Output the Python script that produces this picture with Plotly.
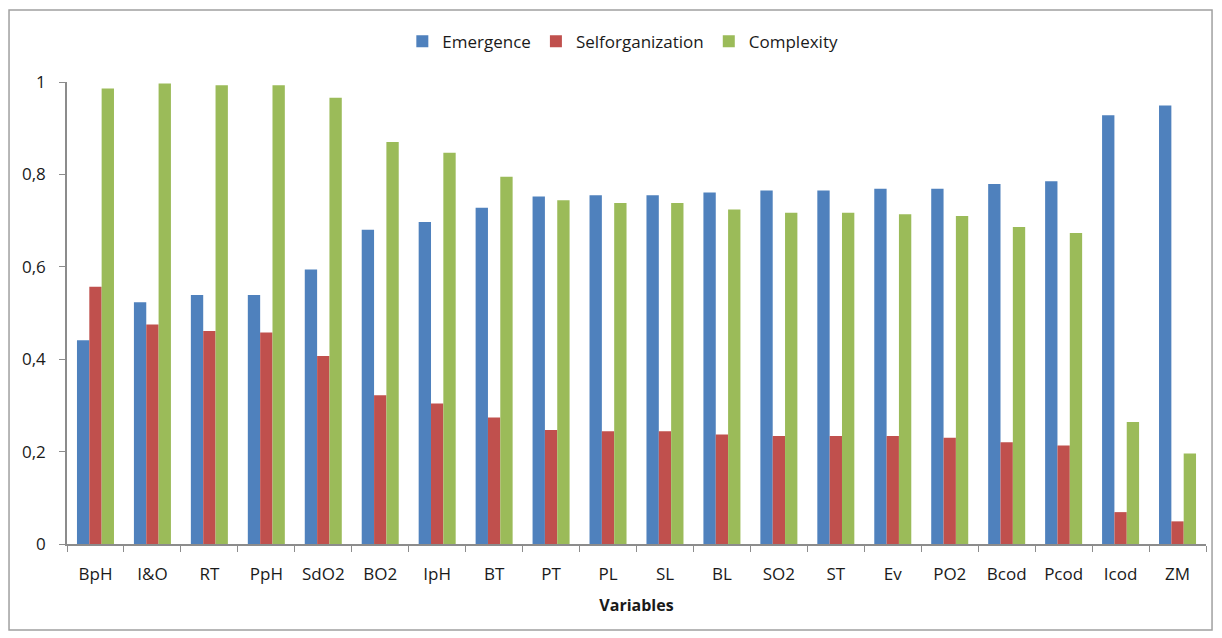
import plotly.graph_objects as go

# categories on the x axis
variables = ["BpH", "I&O", "RT", "PpH", "SdO2", "BO2", "IpH", "BT", "PT", "PL",
             "SL", "BL", "SO2", "ST", "Ev", "PO2", "Bcod", "Pcod", "Icod", "ZM"]

# series values
emergence = [0.441, 0.523, 0.539, 0.539, 0.594, 0.680, 0.697, 0.728, 0.752, 0.755,
             0.755, 0.761, 0.765, 0.765, 0.769, 0.769, 0.779, 0.785, 0.928, 0.949]
selforganization = [0.557, 0.475, 0.461, 0.458, 0.407, 0.322, 0.304, 0.274, 0.247, 0.244,
                    0.244, 0.237, 0.234, 0.234, 0.234, 0.230, 0.220, 0.213, 0.069, 0.049]
complexity = [0.986, 0.997, 0.993, 0.993, 0.966, 0.870, 0.847, 0.795, 0.744, 0.738,
              0.738, 0.724, 0.717, 0.717, 0.714, 0.710, 0.686, 0.673, 0.264, 0.196]

y_ticks = [0, 0.2, 0.4, 0.6, 0.8, 1]

fig = go.Figure()
fig.add_trace(go.Bar(x=variables, y=emergence, name="Emergence",
                     marker=dict(color="#4F81BD", line=dict(width=0))))
fig.add_trace(go.Bar(x=variables, y=selforganization, name="Selforganization",
                     marker=dict(color="#C0504D", line=dict(width=0))))
fig.add_trace(go.Bar(x=variables, y=complexity, name="Complexity",
                     marker=dict(color="#9BBB59", line=dict(width=0))))

# page body adds ~8px offset, so the figure is a bit smaller than the window
fig.update_layout(
    width=1214, height=630,
    margin=dict(l=59, r=16, t=74, b=94),
    paper_bgcolor="white", plot_bgcolor="white",
    separators=",.",
    barmode="group", bargap=0.35, bargroupgap=0,
    font=dict(family="Open Sans, sans-serif", size=17, color="#1a1a1a"),
    showlegend=True,
    legend=dict(orientation="h", x=0.488, xanchor="center", y=1.087, yanchor="middle",
                font=dict(size=17), itemwidth=30, traceorder="normal"),
    shapes=[dict(type="rect", xref="paper", yref="paper",
                 x0=-0.0509, x1=1.0053, y0=-0.186, y1=1.1558,
                 line=dict(color="#A0A0A0", width=1.5), fillcolor="rgba(0,0,0,0)",
                 layer="below")],
)

fig.update_xaxes(
    showline=True, linecolor="#8C8C8C", linewidth=1.5,
    ticks="outside", tickson="boundaries", ticklen=6, tickcolor="#8C8C8C",
    ticklabelstandoff=14,
    showgrid=False,
    title=dict(text="<b>Variables</b>", font=dict(size=16), standoff=16),
    tickfont=dict(size=17),
)
fig.update_yaxes(
    range=[0, 1], tickvals=y_ticks,
    showline=True, linecolor="#8C8C8C", linewidth=1.5,
    ticks="outside", ticklen=6, tickcolor="#8C8C8C",
    ticklabelstandoff=10,
    showgrid=False, zeroline=False,
    tickfont=dict(size=17),
)

fig.write_html("out.html")
